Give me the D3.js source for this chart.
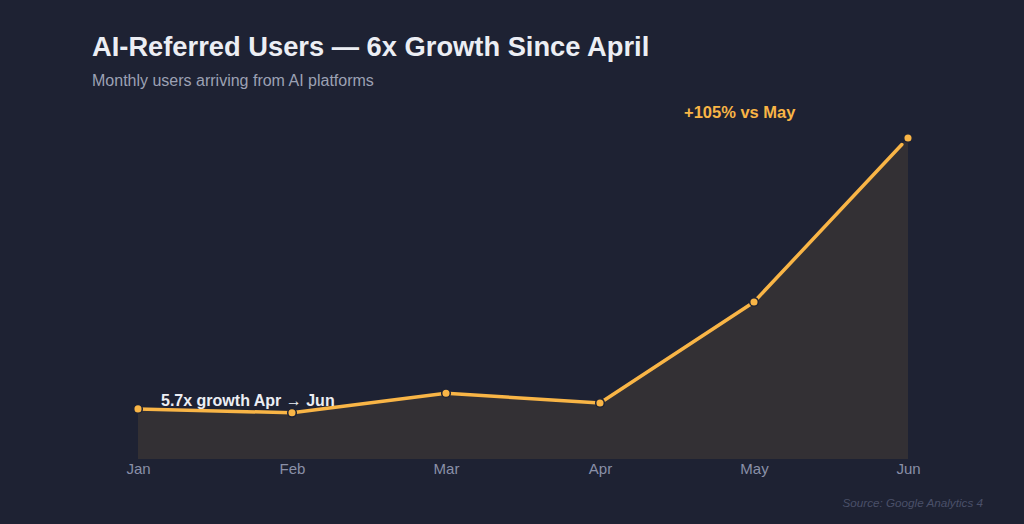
<!DOCTYPE html>
<meta charset="utf-8">
<script src="https://d3js.org/d3.v7.min.js"></script>
<style>
  body { margin: 0; background: #1e2233; }
  svg { display: block; font-family: "Liberation Sans", Arial, sans-serif; }
</style>
<svg id="chart" width="1024" height="524"></svg>
<script>
  // data (monthly AI-referred users)
  const months = ["Jan", "Feb", "Mar", "Apr", "May", "Jun"];
  const users = [320, 295, 420, 358, 1003, 2050];

  const svg = d3.select("#chart"),
      width = +svg.attr("width"),
      height = +svg.attr("height");

  const bg = "#1e2233", orange = "#f9b546";

  svg.append("rect").attr("width", width).attr("height", height).attr("fill", bg);

  const x = d3.scalePoint().domain(months).range([138, 908]);
  const y = d3.scaleLinear().domain([0, d3.max(users)]).range([459, 138]);

  const pts = months.map((m, i) => ({ m, v: users[i] }));

  // area under the line
  svg.append("path")
    .datum(pts)
    .attr("fill", orange)
    .attr("fill-opacity", 0.1)
    .attr("d", d3.area().x(d => x(d.m)).y0(y(0)).y1(d => y(d.v)));

  // line, slightly short at the end like the reference
  const line = svg.append("path")
    .datum(pts)
    .attr("fill", "none")
    .attr("stroke", orange)
    .attr("stroke-width", 3.5)
    .attr("stroke-linecap", "round")
    .attr("stroke-linejoin", "round")
    .attr("d", d3.line().x(d => x(d.m)).y(d => y(d.v)));
  const len = line.node().getTotalLength();
  line.attr("stroke-dasharray", `${len - 9} ${len}`);

  svg.append("g")
    .selectAll("circle")
    .data(pts)
    .join("circle")
      .attr("cx", d => x(d.m))
      .attr("cy", d => y(d.v))
      .attr("r", 4.3)
      .attr("fill", orange)
      .attr("stroke", bg)
      .attr("stroke-width", 1.5);

  // x axis labels
  const xAxis = svg.append("g")
    .attr("transform", `translate(0,${y(0)})`)
    .call(d3.axisBottom(x).tickSize(0).tickPadding(4));
  xAxis.select(".domain").remove();
  xAxis.selectAll("text")
    .attr("fill", "#8a90a8")
    .style("font-size", "15px")
    .style("font-family", "Liberation Sans, Arial, sans-serif");

  // titles
  svg.append("text")
    .attr("x", 92).attr("y", 56)
    .attr("fill", "#eceef4")
    .style("font-size", "27.3px").style("font-weight", "bold")
    .text("AI-Referred Users — 6x Growth Since April");
  svg.append("text")
    .attr("x", 92).attr("y", 86)
    .attr("fill", "#9ca1b4")
    .style("font-size", "16px")
    .text("Monthly users arriving from AI platforms");

  // annotations
  svg.append("text")
    .attr("x", 161).attr("y", 406)
    .attr("fill", "#eceef4")
    .style("font-size", "16px").style("font-weight", "bold")
    .text("5.7x growth Apr → Jun");
  svg.append("text")
    .attr("x", 684).attr("y", 118)
    .attr("fill", orange)
    .style("font-size", "16.5px").style("font-weight", "bold")
    .text("+105% vs May");

  svg.append("text")
    .attr("x", 983).attr("y", 507)
    .attr("text-anchor", "end")
    .attr("fill", "#4a5069")
    .style("font-size", "11.7px").style("font-style", "italic")
    .text("Source: Google Analytics 4");
</script>
